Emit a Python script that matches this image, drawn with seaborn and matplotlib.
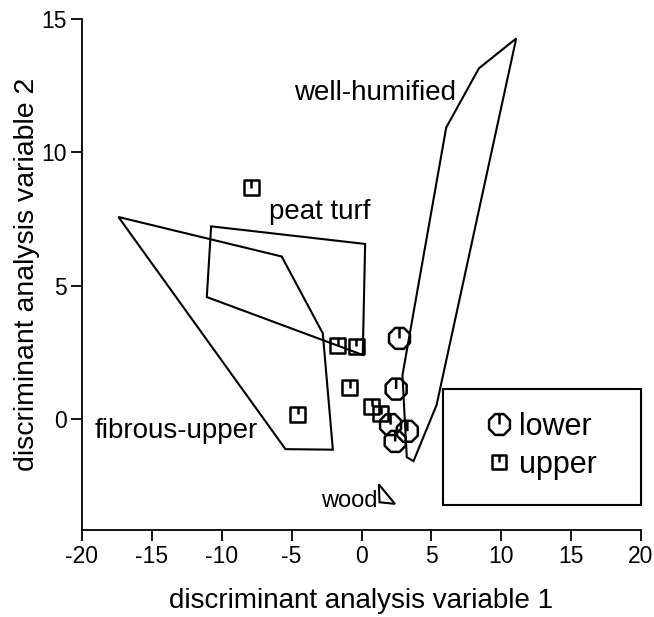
import numpy as np
import pandas as pd
import matplotlib
matplotlib.use("Agg")
import matplotlib.pyplot as plt
from matplotlib.path import Path
from matplotlib.patches import Rectangle
from matplotlib.lines import Line2D
import seaborn as sns

# ---- sample scores on the two discriminant axes ----
lower_x = [2.72, 2.48, 2.08, 3.28, 2.41]
lower_y = [3.03, 1.13, -0.20, -0.45, -0.83]

upper_x = [-7.90, -1.70, -0.38, -0.84, 0.72, 1.36, -4.56]
upper_y = [8.67, 2.78, 2.74, 1.18, 0.49, 0.21, 0.18]

# ---- reference-group envelopes (polygon vertices) ----
well_humified_x = [11.07, 8.40, 6.06, 2.93, 3.24, 3.72, 5.37]
well_humified_y = [14.27, 13.15, 10.93, 1.65, -1.42, -1.57, 0.53]

peat_turf_x = [-10.76, 0.26, 0.09, -11.07]
peat_turf_y = [7.23, 6.57, 2.41, 4.58]

fibrous_upper_x = [-17.39, -5.71, -2.77, -2.05, -5.44]
fibrous_upper_y = [7.58, 6.10, 3.22, -1.14, -1.12]

wood_x = [1.24, 2.39, 1.29]
wood_y = [-2.44, -3.17, -3.11]

# group name labels: (text, x, y at baseline)
group_labels = ["well-humified", "peat turf", "fibrous-upper", "wood"]
group_label_x = [-4.80, -6.59, -19.10, -2.89]
group_label_y = [11.95, 7.52, -0.71, -3.27]

x_ticks = [-20, -15, -10, -5, 0, 5, 10, 15, 20]
y_ticks = [0, 5, 10, 15]


def octagon_marker():
    ang = np.deg2rad(22.5 + 45 * np.arange(8))
    verts = list(zip(np.cos(ang), np.sin(ang)))
    verts.append(verts[0])
    codes = [Path.MOVETO] + [Path.LINETO] * 7 + [Path.CLOSEPOLY]
    top = np.cos(np.deg2rad(22.5))
    verts += [(0, top), (0, 0)]
    codes += [Path.MOVETO, Path.LINETO]
    return Path(verts, codes)


def square_marker():
    verts = [(-1, -1), (1, -1), (1, 1), (-1, 1), (-1, -1), (0, 1), (0, 0)]
    codes = [Path.MOVETO, Path.LINETO, Path.LINETO, Path.LINETO,
             Path.CLOSEPOLY, Path.MOVETO, Path.LINETO]
    return Path(verts, codes)


OCT = octagon_marker()
SQ = square_marker()

sns.set_theme(style="ticks")
plt.rcParams["font.family"] = ["Liberation Sans", "DejaVu Sans"]
plt.rcParams["axes.unicode_minus"] = False
plt.rcParams["text.color"] = "black"
plt.rcParams["axes.labelcolor"] = "black"

fig = plt.figure(figsize=(6.54, 6.17), dpi=100)
ax = fig.add_axes([82 / 654, 1 - 530 / 617, (641 - 82) / 654, (530 - 19) / 617])

df = pd.DataFrame({
    "dav1": lower_x + upper_x,
    "dav2": lower_y + upper_y,
    "layer": ["lower"] * len(lower_x) + ["upper"] * len(upper_x),
})

lw = 1.5
mlw = 1.8
for xs, ys in [(well_humified_x, well_humified_y), (peat_turf_x, peat_turf_y),
               (fibrous_upper_x, fibrous_upper_y), (wood_x, wood_y)]:
    ax.fill(xs, ys, fill=False, edgecolor="black", linewidth=lw, joinstyle="miter")

sns.scatterplot(data=df, x="dav1", y="dav2", style="layer",
                markers={"lower": OCT, "upper": SQ},
                size="layer", sizes={"lower": 228, "upper": 117},
                facecolor="none", edgecolor="black", linewidth=mlw,
                legend=False, ax=ax, zorder=3)

for txt, tx, ty in zip(group_labels, group_label_x, group_label_y):
    fs = 17 if txt == "wood" else 20
    ax.text(tx, ty, txt, fontsize=fs, ha="left", va="baseline", color="black")

ax.set_xlim(-20, 20)
ax.set_ylim(-4.15, 15)
ax.set_xticks(x_ticks)
ax.set_yticks(y_ticks)
ax.tick_params(axis="both", direction="out", length=8, width=1.3,
               labelsize=16.5, color="black", labelcolor="black", pad=3)
for side in ["left", "bottom"]:
    ax.spines[side].set_linewidth(1.3)
    ax.spines[side].set_color("black")
sns.despine(ax=ax)

ax.set_xlabel("discriminant analysis variable 1", fontsize=20, labelpad=14)
ax.set_ylabel("discriminant analysis variable 2", fontsize=20.5, labelpad=1)

# legend box with the two sample layers
ax.add_patch(Rectangle((0.6458, 0.0489), 0.3542, 0.227, transform=ax.transAxes,
                       fill=False, edgecolor="black", linewidth=lw, clip_on=False))
handles = [
    Line2D([], [], linestyle="none", marker=OCT, markersize=15,
           markerfacecolor="none", markeredgecolor="black", markeredgewidth=mlw),
    Line2D([], [], linestyle="none", marker=SQ, markersize=10,
           markerfacecolor="none", markeredgecolor="black", markeredgewidth=mlw),
]
ax.legend(handles, ["lower", "upper"], loc="center", bbox_to_anchor=(0.8225, 0.1644),
          frameon=False, fontsize=22, handlelength=0.8, handletextpad=0.25,
          labelspacing=0.25, borderpad=0)

fig.savefig("out.png", dpi=100)
